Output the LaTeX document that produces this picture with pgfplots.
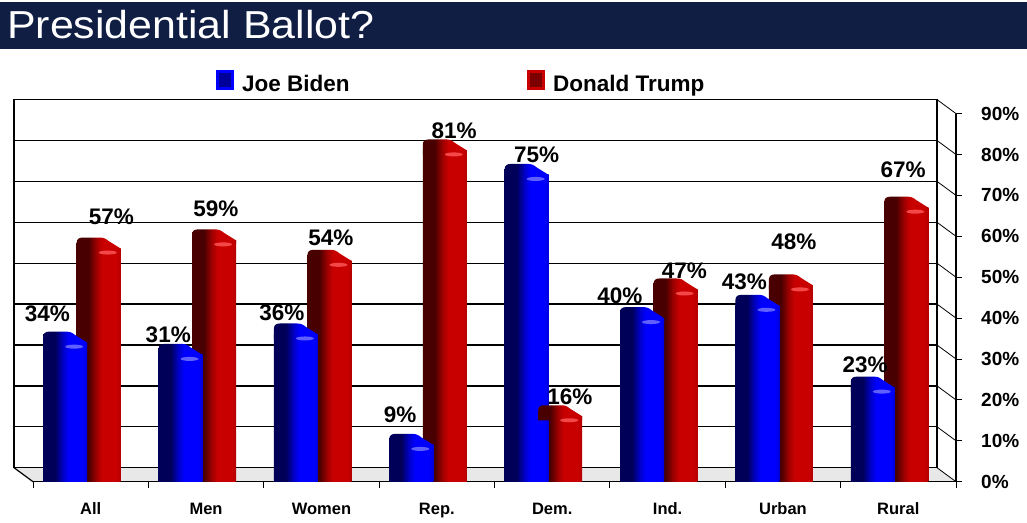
\documentclass[border=0pt]{standalone}
\usepackage{fontspec}
\setmainfont{Liberation Sans}
\usepackage{graphicx}
\usepackage{pgfplots}
\usepackage{pgfplotstable}
\pgfplotsset{compat=1.18}

\definecolor{titlebg}{RGB}{17,30,68}
\definecolor{bdark}{RGB}{0,0,88}
\definecolor{bmid}{RGB}{0,0,200}
\definecolor{bbright}{RGB}{0,0,255}
\definecolor{bedge}{RGB}{0,0,215}
\definecolor{rdark}{RGB}{72,0,0}
\definecolor{rmid}{RGB}{160,0,0}
\definecolor{rbright}{RGB}{200,0,0}
\definecolor{redge}{RGB}{180,0,0}
\definecolor{bhi}{RGB}{120,120,255}
\definecolor{rhi}{RGB}{255,90,90}

\pgfdeclarehorizontalshading{bluebar}{100bp}{color(0bp)=(bdark); color(25bp)=(bdark); color(38.5bp)=(bdark); color(47.5bp)=(bmid); color(54bp)=(bbright); color(70bp)=(bbright); color(75bp)=(bedge); color(100bp)=(bedge)}
\pgfdeclarehorizontalshading{redbar}{100bp}{color(0bp)=(rdark); color(25bp)=(rdark); color(38.5bp)=(rdark); color(47.5bp)=(rmid); color(54bp)=(rbright); color(70bp)=(rbright); color(75bp)=(redge); color(100bp)=(redge)}

% top of a bar (rounded, seen from above-left), drawn at the data point
\newcommand\bartoppath{%
  \pgfpathmoveto{\pgfpoint{-22pt}{-4pt}}%
  \pgfpathlineto{\pgfpoint{-22pt}{6pt}}%
  \pgfpathcurveto{\pgfpoint{-22pt}{9.5pt}}{\pgfpoint{-19.5pt}{11pt}}{\pgfpoint{-16pt}{11pt}}%
  \pgfpathlineto{\pgfpoint{1pt}{11pt}}%
  \pgfpathcurveto{\pgfpoint{5pt}{11pt}}{\pgfpoint{7pt}{10pt}}{\pgfpoint{10pt}{7.5pt}}%
  \pgfpathlineto{\pgfpoint{22pt}{0pt}}%
  \pgfpathlineto{\pgfpoint{22pt}{-4pt}}%
  \pgfpathclose}
\pgfdeclareplotmark{bluetop}{%
  \begin{pgfscope}%
  \pgftransformxshift{-25.5pt}%
  \bartoppath
  \pgfshadepath{bluebar}{0}%
  \pgfusepath{}%
  \pgfsetfillcolor{bhi}\pgfsetfillopacity{0.8}%
  \pgfpathellipse{\pgfpoint{9pt}{-4pt}}{\pgfpoint{9pt}{0pt}}{\pgfpoint{0pt}{2pt}}%
  \pgfusepath{fill}%
  \end{pgfscope}}
\pgfdeclareplotmark{redtop}{%
  \begin{pgfscope}%
  \pgftransformxshift{8pt}%
  \bartoppath
  \pgfshadepath{redbar}{0}%
  \pgfusepath{}%
  \pgfsetfillcolor{rhi}\pgfsetfillopacity{0.8}%
  \pgfpathellipse{\pgfpoint{9pt}{-4pt}}{\pgfpoint{9pt}{0pt}}{\pgfpoint{0pt}{2pt}}%
  \pgfusepath{fill}%
  \end{pgfscope}}

\pgfplotstableread{
x y xs ys
0 34 -43.2 29.1
1 31 -37.8 20.4
2 36 -39.5 22
3 9 -36.8 30.4
4 75 -15.5 19.9
5 40 -47.6 22.1
6 43 -38.5 24.3
7 23 -33.3 23.1
}\biden

\pgfplotstableread{
x y xs ys
0 57 20.8 32.1
1 59 9.9 31.9
2 54 9.5 22.8
3 81 17.2 19.4
4 16 17.8 19.8
5 47 16.9 19
6 48 11 43.9
7 67 4.7 38.2
}\trump

\begin{document}
\begin{tikzpicture}
\path[use as bounding box] (0pt,0pt) rectangle (1027pt,522pt);
% title bar
\fill[titlebg] (0pt,473pt) rectangle (1027pt,520pt);
\node[anchor=base west, inner sep=0pt, text=white, font=\fontsize{39}{44}\selectfont] at (7pt,483.7pt) {\scalebox{1.1}[1]{Presidential Ballot?}};
% floor
\fill[gray!18] (14pt,54.3pt) -- (937pt,54.3pt) -- (956pt,40.3pt) -- (33pt,40.3pt) -- cycle;
\draw[black, line width=1.2pt] (14pt,54.3pt) -- (33pt,40.3pt);
% back wall
\begin{axis}[
  at={(14pt,54.3pt)}, anchor=south west,
  scale only axis, width=923pt, height=368.1pt,
  xmin=0, xmax=1, ymin=0, ymax=90,
  xtick=\empty, ytick={10,20,...,80}, yticklabel=\empty,
  major tick length=0pt,
  ymajorgrids, major grid style={black, line width=1.2pt},
  axis line style={black, line width=1.4pt},
]
\addplot[draw=none] coordinates {(0,0)};
\end{axis}
% side connectors
\foreach \k in {0,...,9}
  \draw[black, line width=0.8pt] (937pt,{54.3pt+40.9pt*\k}) -- (956pt,{40.3pt+40.9pt*\k});
% front axis with the bars
\begin{axis}[
  at={(33pt,40.3pt)}, anchor=south west,
  scale only axis, width=923pt, height=368.1pt,
  xmin=-0.5, xmax=7.5, ymin=0, ymax=90,
  clip=false,
  axis x line*=bottom, axis y line*=right,
  axis line style={black, line width=1.2pt, -},
  xtick={-0.5,0.5,...,7.5},
  xticklabels={All,Men,Women,Rep.,Dem.,Ind.,Urban,Rural,{}},
  xticklabel style={anchor=base, inner sep=0pt, xshift=57.7pt, yshift=-26.3pt, font=\bfseries\fontsize{16.5}{19}\selectfont},
  ytick={0,10,...,90},
  yticklabels={0\%,10\%,20\%,30\%,40\%,50\%,60\%,70\%,80\%,90\%},
  yticklabel style={anchor=west, inner sep=0pt, xshift=19pt, font=\bfseries\fontsize{19}{22}\selectfont},
  tick align=outside, major tick length=6pt,
  tick style={black, line width=1pt},
  legend columns=2,
  legend cell align=left,
  legend style={at={(axis description cs:0.198,1.087)}, anchor=west, draw=none, fill=none,
    inner sep=0pt, outer sep=0pt, font=\bfseries\fontsize{22.5}{27}\selectfont,
    column sep=9pt, /tikz/every even column/.append style={column sep=177pt},
    nodes={inner sep=0pt}},
]
\addlegendimage{legend image code/.code={
  \fill[bbright] (0pt,-5.6pt) rectangle (17pt,13.7pt);
  \fill[bmid!60!bdark] (3pt,-2.6pt) rectangle (14pt,10.7pt);}}
\addlegendentry{Joe Biden}
\addlegendimage{legend image code/.code={
  \fill[rbright] (0pt,-5.6pt) rectangle (17pt,13.7pt);
  \fill[rmid!60!rdark] (3pt,-2.6pt) rectangle (14pt,10.7pt);}}
\addlegendentry{Donald Trump}

% red bars, one plot per bar so that each bar gets its own shading
\pgfplotsinvokeforeach{0,...,7}{
  \addplot[forget plot, ybar, bar width=44pt, bar shift=8pt, draw=none, shade, shading=redbar,
    x filter/.expression={abs(x-#1)<0.1 ? x : nan}]
    table[x=x, y=y] {\trump};
}
\addplot[forget plot, only marks, mark=redtop, point meta=y,
  visualization depends on={\thisrow{xs}\as\labx},
  visualization depends on={\thisrow{ys}\as\laby},
  nodes near coords={\pgfmathprintnumber[assume math mode=true]{\pgfplotspointmeta}\%},
  nodes near coords style={anchor=center, inner sep=0pt, text=black, font=\bfseries\fontsize{22.5}{27}\selectfont, xshift=\labx, yshift=\laby},
] table[x=x, y=y] {\trump};

\pgfplotsinvokeforeach{0,...,7}{
  \addplot[forget plot, ybar, bar width=44pt, bar shift=-25.5pt, draw=none, shade, shading=bluebar,
    x filter/.expression={abs(x-#1)<0.1 ? x : nan}]
    table[x=x, y=y] {\biden};
}
\addplot[forget plot, only marks, mark=bluetop, point meta=y,
  visualization depends on={\thisrow{xs}\as\labx},
  visualization depends on={\thisrow{ys}\as\laby},
  nodes near coords={\pgfmathprintnumber[assume math mode=true]{\pgfplotspointmeta}\%},
  nodes near coords style={anchor=center, inner sep=0pt, text=black, font=\bfseries\fontsize{22.5}{27}\selectfont, xshift=\labx, yshift=\laby},
] table[x=x, y=y] {\biden};
\end{axis}
\end{tikzpicture}
\end{document}
